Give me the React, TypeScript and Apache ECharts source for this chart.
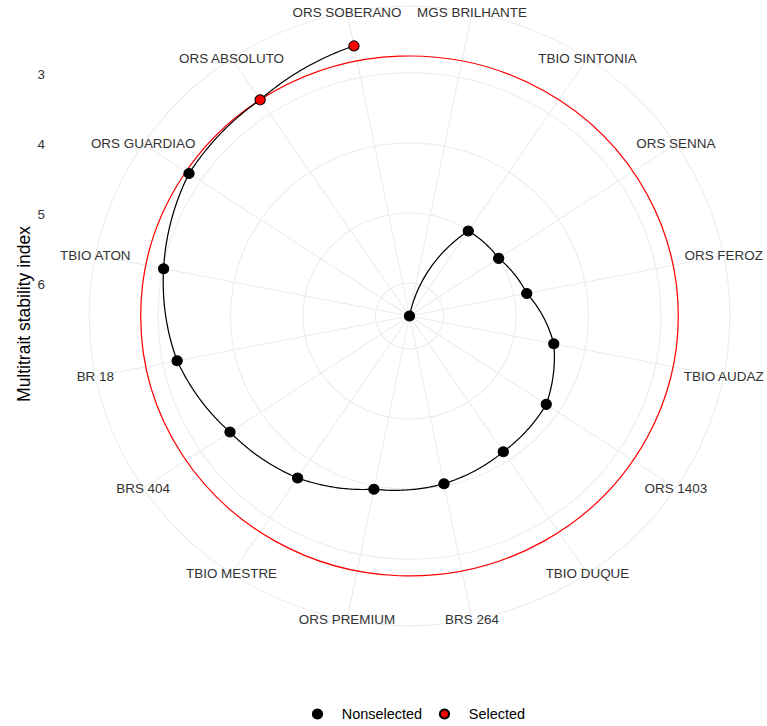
import React, { useEffect, useRef } from "react";
import * as echarts from "echarts";

// Genotypes in plotting order (clockwise, starting just right of the top)
const genotypes = [
  "MGS BRILHANTE",
  "TBIO SINTONIA",
  "ORS SENNA",
  "ORS FEROZ",
  "TBIO AUDAZ",
  "ORS 1403",
  "TBIO DUQUE",
  "BRS 264",
  "ORS PREMIUM",
  "TBIO MESTRE",
  "BRS 404",
  "BR 18",
  "TBIO ATON",
  "ORS GUARDIAO",
  "ORS ABSOLUTO",
  "ORS SOBERANO",
];

// Multitrait stability index (radial, reversed: low values outside)
const mgidi = [6.47, 5.01, 4.99, 4.82, 4.44, 4.2, 4.14, 4.03, 3.95, 3.69, 3.49, 3.2, 3.01, 2.81, 2.76, 2.54];

const selectedGenotypes = ["ORS ABSOLUTO", "ORS SOBERANO"];
const radialTicks = [3, 4, 5, 6];
const legendLabels = ["Nonselected", "Selected"];
const axisTitle = "Multitrait stability index";

const STRETCH = 1.034;
const CX = 409.5;
const CY = 316;
const R_OUTER = 309.8;
const FONT = "'Liberation Sans', Arial, Helvetica, sans-serif";
const GRID = "#EBEBEB";
const TICK_TEXT = "#333333";

export default function App() {
  const ref = useRef<HTMLDivElement>(null);

  useEffect(() => {
    if (!ref.current) return;
    const chart = echarts.init(ref.current, undefined, { renderer: "svg" });
    const n = genotypes.length;
    const vMax = Math.max(...mgidi);
    const vMin = Math.min(...mgidi);
    // ggplot polar: data range maps to r in [0, 0.4]; outer grid ring at 0.45
    const rOuterValue = vMax - (vMax - vMin) * (0.45 / 0.4);
    const isSel = (g: string) => selectedGenotypes.includes(g);
    const cutoff = Math.max(...mgidi.filter((_, i) => isSel(genotypes[i])));

    const nonSelData: number[][] = [];
    const selData: number[][] = [];
    mgidi.forEach((v, i) => {
      (isSel(genotypes[i]) ? selData : nonSelData).push([v, i]);
    });

    const segData = mgidi.slice(1).map((v, k) => [mgidi[k], k, v, k + 1]);

    const circleRender = (color: string, width: number) => (params: any, api: any) => {
      const cs = params.coordSys;
      const v = api.value(0);
      const p = api.coord([v, 0]);
      const r = Math.hypot(p[0] - cs.cx, p[1] - cs.cy);
      return {
        type: "circle",
        shape: { cx: cs.cx, cy: cs.cy, r },
        style: { fill: "none", stroke: color, lineWidth: width },
        silent: true,
      };
    };

    const option: any = {
      animation: false,
      backgroundColor: "#ffffff",
      polar: { center: [CX, CY], radius: R_OUTER },
      angleAxis: {
        type: "value",
        min: 0,
        max: n,
        interval: 1,
        startAngle: 90 - 180 / n,
        clockwise: true,
        axisLine: { show: true, lineStyle: { color: GRID, width: 1 } },
        axisTick: { show: false },
        axisLabel: { show: false },
        splitLine: { show: true, lineStyle: { color: GRID, width: 1 } },
      },
      radiusAxis: {
        type: "value",
        inverse: true,
        min: rOuterValue,
        max: vMax,
        axisLine: { show: false },
        axisTick: { show: false },
        axisLabel: { show: false },
        splitLine: { show: false },
      },
      legend: {
        data: legendLabels,
        left: 310,
        top: 702,
        orient: "horizontal",
        icon: "circle",
        itemWidth: 37,
        itemHeight: 9,
        itemGap: 16,
        textStyle: { fontSize: 14, color: "#000", fontFamily: FONT },
      },
      graphic: [
        {
          type: "text",
          x: 37,
          y: 314,
          rotation: Math.PI / 2,
          style: {
            text: axisTitle,
            fill: "#000",
            fontSize: 17.5,
            fontFamily: FONT,
            align: "center",
            verticalAlign: "middle",
          },
        },
      ],
      series: [
        {
          type: "custom",
          name: "grid",
          coordinateSystem: "polar",
          data: radialTicks.map((v) => [v, 0]),
          renderItem: circleRender(GRID, 1),
          z: 1,
          silent: true,
        },
        {
          type: "custom",
          name: "cutoff",
          coordinateSystem: "polar",
          data: [[cutoff, 0]],
          renderItem: circleRender("#FF0000", 1.2),
          z: 2,
          silent: true,
        },
        {
          type: "custom",
          name: "path",
          coordinateSystem: "polar",
          data: segData,
          renderItem: (params: any, api: any) => {
            const v0 = api.value(0);
            const a0 = api.value(1);
            const v1 = api.value(2);
            const a1 = api.value(3);
            const steps = 40;
            const pts: number[][] = [];
            for (let s = 0; s <= steps; s++) {
              const t = s / steps;
              pts.push(api.coord([v0 + (v1 - v0) * t, a0 + (a1 - a0) * t]));
            }
            return {
              type: "polyline",
              shape: { points: pts },
              style: { fill: "none", stroke: "#000", lineWidth: 1.2 },
              silent: true,
            };
          },
          z: 3,
          silent: true,
        },
        {
          type: "custom",
          name: "labels",
          coordinateSystem: "polar",
          data: genotypes.map((_, i) => [rOuterValue, i]),
          renderItem: (params: any, api: any) => {
            const p = api.coord([api.value(0), api.value(1)]);
            return {
              type: "text",
              x: p[0],
              y: p[1],
              style: {
                text: genotypes[params.dataIndex],
                fill: TICK_TEXT,
                fontSize: 13,
                fontFamily: FONT,
                align: "center",
                verticalAlign: "middle",
              },
              silent: true,
            };
          },
          z: 3,
          silent: true,
        },
        {
          type: "custom",
          name: "radialTicks",
          coordinateSystem: "polar",
          data: radialTicks.map((v) => [v, 0]),
          renderItem: (params: any, api: any) => {
            const cs = params.coordSys;
            const p = api.coord([api.value(0), 0]);
            const r = Math.hypot(p[0] - cs.cx, p[1] - cs.cy);
            return {
              type: "text",
              x: 57,
              y: cs.cy - r + 2,
              style: {
                text: String(radialTicks[params.dataIndex]),
                fill: TICK_TEXT,
                fontSize: 13,
                fontFamily: FONT,
                align: "right",
                verticalAlign: "middle",
              },
              silent: true,
            };
          },
          z: 3,
          silent: true,
        },
        {
          type: "scatter",
          name: "Nonselected",
          coordinateSystem: "polar",
          data: nonSelData,
          symbol: "circle",
          symbolSize: 10,
          itemStyle: { color: "#000000", borderColor: "#000000", borderWidth: 1, opacity: 1 },
          z: 5,
        },
        {
          type: "scatter",
          name: "Selected",
          coordinateSystem: "polar",
          data: selData,
          symbol: "circle",
          symbolSize: 10,
          itemStyle: { color: "#FF0000", borderColor: "#000000", borderWidth: 1, opacity: 1 },
          z: 5,
        },
      ],
    };

    chart.setOption(option);
    return () => chart.dispose();
  }, []);

  return (
    <div
      style={{
        position: "fixed",
        left: 0,
        top: 0,
        width: 767,
        height: 726,
        overflow: "hidden",
        background: "#fff",
      }}
    >
      <div
        ref={ref}
        style={{
          width: 767,
          height: 726,
          transform: `scaleX(${STRETCH})`,
          transformOrigin: `${CX}px 0px`,
        }}
      />
    </div>
  );
}
